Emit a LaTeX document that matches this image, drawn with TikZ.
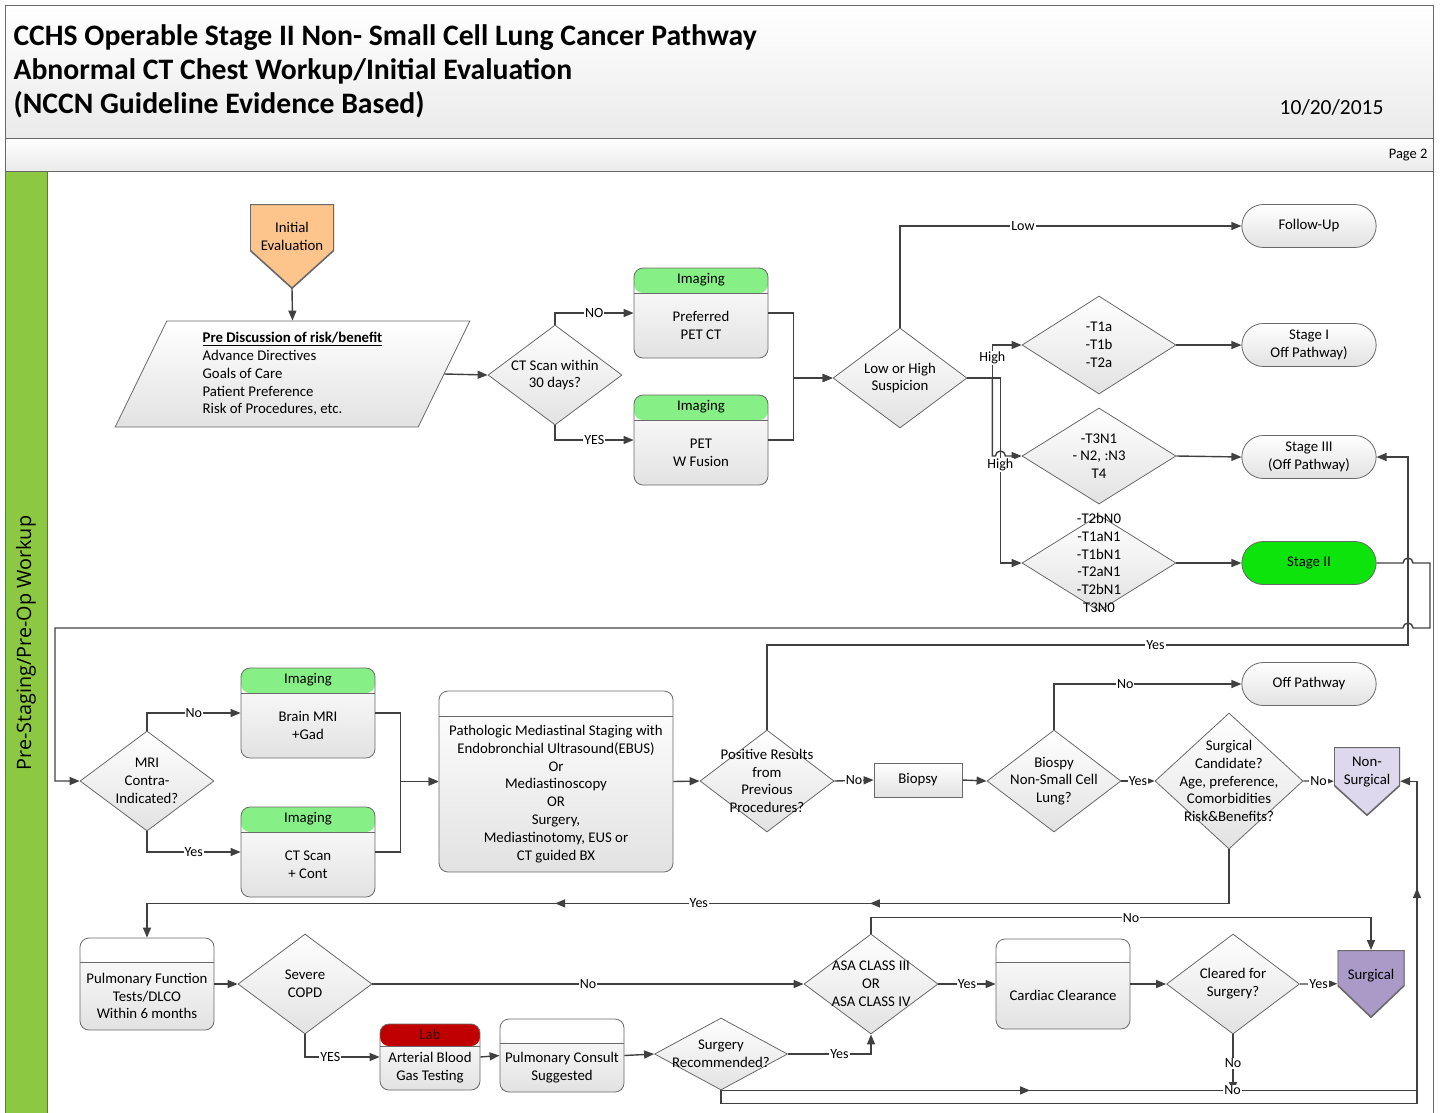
\documentclass[tikz,border=0pt]{standalone}
\usepackage{fontspec}
\setmainfont{Carlito}
\newfontfamily\lanefont{Open Sans}
\usetikzlibrary{shapes,arrows.meta,decorations.markings}

\definecolor{linecol}{RGB}{64,64,64}
\definecolor{edgecol}{RGB}{105,105,105}
\definecolor{fillgray}{RGB}{226,226,226}
\definecolor{titlegray}{RGB}{234,234,234}
\definecolor{lanegreen}{RGB}{140,200,66}
\definecolor{imggreen}{RGB}{134,239,134}
\definecolor{stagegreen}{RGB}{12,228,12}
\definecolor{initorange}{RGB}{253,196,140}
\definecolor{labred}{RGB}{192,0,0}
\definecolor{labtext}{RGB}{70,0,0}
\definecolor{nonsurgpurple}{RGB}{222,216,238}
\definecolor{surgpurple}{RGB}{170,154,200}

\tikzset{head/.style 2 args={path picture={
  \fill[#1] (path picture bounding box.north west) rectangle ([yshift=-#2]path picture bounding box.north east);
  \draw[edgecol, line width=0.8pt] ([yshift=-#2]path picture bounding box.north west) -- ([yshift=-#2]path picture bounding box.north east);}}}
\tikzset{offpage/.style 2 args={rectangle, inner sep=0pt, anchor=north, path picture={
  \filldraw[fill=#1, draw=edgecol, line width=1.6pt] (path picture bounding box.north west) -- (path picture bounding box.north east) -- ([yshift=#2]path picture bounding box.south east) -- (path picture bounding box.south) -- ([yshift=#2]path picture bounding box.south west) -- cycle;}}}

\begin{document}
\begin{tikzpicture}[x=1pt,y=-1pt]

\tikzstyle{every node}=[font=\fontsize{14.8}{17.8}\selectfont]
\tikzstyle{shaded}=[draw=edgecol, line width=0.8pt, top color=white, bottom color=fillgray]
\tikzstyle{decision}=[diamond, shaded, inner sep=0pt, minimum width=134pt, minimum height=100pt]
\tikzstyle{dtext}=[align=center, inner sep=0pt]
\tikzstyle{terminal}=[rounded rectangle, shaded, minimum width=141pt, minimum height=43pt]
\tikzstyle{card}=[rectangle, rounded corners=9pt, shaded, inner sep=0pt]
\tikzstyle{line}=[draw=linecol, line width=1.4pt, -{Triangle[length=10pt,width=8pt]}]
\tikzstyle{flow}=[draw=linecol, line width=1.4pt]
\tikzstyle{lbl}=[fill=white, inner sep=1pt, font=\fontsize{14}{15}\selectfont]

\useasboundingbox (0,0) rectangle (1440,1112);

%frame
\node[draw=edgecol, line width=1pt, top color=white, bottom color=titlegray, minimum width=1428pt, minimum height=133pt, anchor=north west, inner sep=0pt] (titlebar) at (5,5) {};
\node[draw=edgecol, line width=1pt, top color=white, bottom color=titlegray, minimum width=1428pt, minimum height=33pt, anchor=north west, inner sep=0pt] (pagebar) at (5,138) {};
\node[draw=edgecol, line width=1pt, fill=lanegreen, minimum width=42pt, minimum height=950pt, anchor=north west, inner sep=0pt] (laneband) at (5,171) {};
\node[draw=edgecol, line width=1pt, minimum width=1386pt, minimum height=950pt, anchor=north west, inner sep=0pt] (lane) at (47,171) {};

\node[anchor=west, align=left, font=\fontsize{29.7}{34}\selectfont\bfseries] (title) at (10,71) {CCHS Operable Stage II Non- Small Cell Lung Cancer Pathway\\Abnormal CT Chest Workup/Initial Evaluation\\(NCCN Guideline Evidence Based)};
\node[anchor=east, font=\fontsize{21.5}{24}\selectfont] (date) at (1387,107) {10/20/2015};
\node[anchor=east, font=\fontsize{14.5}{16}\selectfont] (page) at (1431,155) {Page 2};
\node[rotate=90, font=\lanefont\fontsize{19.8}{22}\selectfont] (lanelabel) at (26,643) {Pre-Staging/Pre-Op Workup};

%initial evaluation
\node[offpage={initorange}{38pt}, minimum width=84pt, minimum height=84pt, label={[dtext, yshift=10pt]center:Initial\\Evaluation}] (init) at (292,204) {};
\node[trapezium, trapezium left angle=67, trapezium right angle=113, trapezium stretches=true, shaded, minimum width=355pt, minimum height=106pt, align=left] (pre) at (292.5,374) {\underline{\textbf{Pre Discussion of risk/benefit}}\\Advance Directives\\Goals of Care\\Patient Preference\\Risk of Procedures, etc.};
\node[decision, label={[dtext]center:CT Scan within\\30 days?}] (ctq) at (555,375) {};

\node[card, head={imggreen}{25pt}, minimum width=134pt, minimum height=90pt] (pref) at (701,313) {};
\node (prefh) at ([yshift=-12.5pt]pref.north) {Imaging};
\node[align=center] (preft) at ([yshift=-12.5pt]pref.center) {Preferred\\PET CT};
\node[card, head={imggreen}{25pt}, minimum width=134pt, minimum height=90pt] (pet) at (701,440) {};
\node (peth) at ([yshift=-12.5pt]pet.north) {Imaging};
\node[align=center] (pett) at ([yshift=-12.5pt]pet.center) {PET\\W Fusion};

%staging
\node[decision, label={[dtext]center:Low or High\\Suspicion}] (lh) at (900,378) {};
\node[decision, minimum width=154pt, minimum height=98pt, label={[dtext]center:-T1a\\-T1b\\-T2a}] (d1) at (1099,345) {};
\node[decision, minimum width=154pt, minimum height=96pt, label={[dtext]center:-T3N1\\- N2, :N3\\T4}] (d2) at (1099,456) {};
\node[decision, minimum width=154pt, minimum height=96pt, label={[dtext]center:-T2bN0\\-T1aN1\\-T1bN1\\-T2aN1\\-T2bN1\\T3N0}] (d3) at (1099,563) {};

\node[terminal] (fu) at (1309,226) {Follow-Up};
\node[terminal, align=center] (st1) at (1309,345) {Stage I\\Off Pathway)};
\node[terminal, align=center] (st3) at (1309,457) {Stage III\\(Off Pathway)};
\node[terminal, top color=stagegreen, bottom color=stagegreen] (st2) at (1309,563) {Stage II};

%mediastinal workup
\node[decision, label={[dtext]center:MRI\\Contra-\\Indicated?}] (mri) at (147,781) {};
\node[card, head={imggreen}{25pt}, minimum width=134pt, minimum height=90pt] (brain) at (308,713) {};
\node (brainh) at ([yshift=-12.5pt]brain.north) {Imaging};
\node[align=center] (braint) at ([yshift=-12.5pt]brain.center) {Brain MRI\\+Gad};
\node[card, head={imggreen}{25pt}, minimum width=134pt, minimum height=90pt] (ctsc) at (308,852) {};
\node (ctsch) at ([yshift=-12.5pt]ctsc.north) {Imaging};
\node[align=center] (ctsct) at ([yshift=-12.5pt]ctsc.center) {CT Scan\\+ Cont};

\node[card, head={white}{25pt}, minimum width=234pt, minimum height=181pt] (patho) at (556,781.5) {};
\node[align=center] (pathot) at ([yshift=-12.5pt]patho.center) {Pathologic Mediastinal Staging with\\Endobronchial Ultrasound(EBUS)\\Or\\Mediastinoscopy\\OR\\Surgery,\\Mediastinotomy, EUS or\\CT guided BX};

\node[decision, minimum height=102pt, label={[dtext]center:Positive Results\\from\\Previous\\Procedures?}] (pos) at (767,781) {};
\node[rectangle, shaded, minimum width=88pt, minimum height=34pt] (biopsy) at (918,780) {Biopsy};
\node[decision, minimum height=102pt, label={[dtext]center:Biospy\\Non-Small Cell\\Lung?}] (bnsc) at (1054,781) {};
\node[terminal] (off) at (1309,684) {Off Pathway};
\node[decision, minimum width=148pt, minimum height=136pt, label={[dtext]center:Surgical\\Candidate?\\Age, preference,\\Comorbidities\\Risk\&Benefits?}] (sc) at (1229,781) {};
\node[offpage={nonsurgpurple}{30pt}, minimum width=66pt, minimum height=68pt, label={[dtext, yshift=9pt]center:Non-\\Surgical}] (nonsurg) at (1367,747) {};

%pre-op evaluation
\node[card, head={white}{24pt}, minimum width=134pt, minimum height=92pt] (pft) at (147,984) {};
\node[align=center] (pftt) at ([yshift=-12pt]pft.center) {Pulmonary Function\\Tests/DLCO\\Within 6 months};
\node[decision, label={[dtext]center:Severe\\COPD}] (copd) at (305,984) {};
\node[card, head={labred}{22pt}, minimum width=100pt, minimum height=66pt] (lab) at (430,1057) {};
\node[text=labtext] (labh) at ([yshift=-11pt]lab.north) {Lab};
\node[align=center] (labt) at ([yshift=-11pt]lab.center) {Arterial Blood\\Gas Testing};
\node[card, head={white}{24pt}, minimum width=124pt, minimum height=73pt] (pc) at (562,1055.5) {};
\node[align=center] (pct) at ([yshift=-12pt]pc.center) {Pulmonary Consult\\Suggested};
\node[decision, minimum width=133pt, minimum height=72pt, label={[dtext]center:Surgery\\Recommended?}] (sr) at (721,1054) {};
\node[decision, label={[dtext]center:ASA CLASS III\\OR\\ASA CLASS IV}] (asa) at (871,984) {};
\node[card, head={white}{23pt}, minimum width=134pt, minimum height=90pt] (cardc) at (1063,984) {};
\node (cardct) at ([yshift=-11.5pt]cardc.center) {Cardiac Clearance};
\node[decision, minimum width=133pt, label={[dtext]center:Cleared for\\Surgery?}] (clr) at (1233,984) {};
\node[offpage={surgpurple}{32pt}, minimum width=67pt, minimum height=67pt, label={[dtext, yshift=8.5pt]center:Surgical}] (surg) at (1371,950) {};
\coordinate (nojoin) at (1233,1092);

%connectors, top row
\draw[line] (init.south) -- (pre.north);
\draw[line] (pre.east) -- (ctq.west);
\draw[line] (ctq.north) |- node[lbl, pos=0.75] {NO} (pref.west);
\draw[line] (ctq.south) |- node[lbl, pos=0.75] {YES} (pet.west);
\draw[line] (pref.east) -- ++(25,0) |- (lh.west);
\draw[line] (pet.east) -- ++(25,0) |- (lh.west);
\draw[line] (lh.north) |- node[lbl, pos=0.68] {Low} (fu.west);
\draw[line] (lh.east) -- ++(25,0) |- node[lbl, pos=0.3] {High} (d1.west);
\draw[line] (lh.east) -- ++(25,0) -- ++(0,78) -- ++(3,0) arc[start angle=180, end angle=360, radius=5] -- (d2.west);
\draw[line] (lh.east) -- ++(33,0) |- node[lbl, pos=0.235] {High} (d3.west);
\draw[line] (d1.east) -- (st1.west);
\draw[line] (d2.east) -- (st3.west);
\draw[line] (d3.east) -- (st2.west);
\draw[line] (st2.east) -- (1403,563) arc[start angle=180, end angle=360, radius=5] -- (1430,563) -- (1430,628) -- (1413,628) arc[start angle=0, end angle=-180, radius=5] -- (55,628) |- (mri.west);

%connectors, middle row
\draw[line] (mri.north) |- node[lbl, pos=0.75] {No} (brain.west);
\draw[line] (mri.south) |- node[lbl, pos=0.75] {Yes} (ctsc.west);
\draw[line] (brain.east) -- ++(25,0) |- (patho.west);
\draw[line] (ctsc.east) -- ++(25,0) |- (patho.west);
\draw[line] (patho.east) -- (pos.west);
\draw[line] (pos.east) -- node[lbl] {No} (biopsy.west);
\draw[line] (biopsy.east) -- (bnsc.west);
\draw[line] (bnsc.north) |- node[lbl, pos=0.69] {No} (off.west);
\draw[line] (bnsc.east) -- node[lbl] {Yes} (sc.west);
\draw[line] (sc.east) -- node[lbl] {No} (nonsurg.west);
\draw[line] (pos.north) |- node[lbl, pos=0.803] {Yes} (1408,645) |- (st3.east);
\draw[line, postaction={decorate, decoration={markings, mark=at position 0.353 with {\arrow{Triangle[length=10pt,width=8pt]}}, mark=at position 0.622 with {\arrow{Triangle[length=10pt,width=8pt]}}}}] (sc.south) -- ++(0,54) -- node[lbl, pos=0.49] {Yes} ++(-1082,0) -- (pft.north);

%connectors, bottom row
\draw[line] (pft.east) -- (copd.west);
\draw[line] (copd.east) -- node[lbl] {No} (asa.west);
\draw[line] (copd.south) |- node[lbl, pos=0.67] {YES} (lab.west);
\draw[line] (lab.east) -- (pc.west);
\draw[line] (pc.east) -- (sr.west);
\draw[line] (sr.east) -| node[lbl, pos=0.31] {Yes} (asa.south);
\draw[line] (asa.north) -- ++(0,-16) -| node[lbl, pos=0.26] {No} (surg.north);
\draw[line] (asa.east) -- node[lbl] {Yes} (cardc.west);
\draw[line] (cardc.east) -- (clr.west);
\draw[line] (clr.east) -- node[lbl] {Yes} (surg.west);
\draw[line] (clr.south) -- node[lbl] {No} (nojoin);
\draw[flow, postaction={decorate, decoration={markings, mark=at position 0.444 with {\arrow{Triangle[length=10pt,width=8pt]}}}}] (sr.south) -- node[lbl, pos=0.735] {No} ++(696,0);
\draw[line, postaction={decorate, decoration={markings, mark=at position 0.882 with {\arrow{Triangle[length=10pt,width=8pt]}}}}] (sr.south) -- ++(0,13) -- ++(696,0) |- (nonsurg.east);

\end{tikzpicture}
\end{document}
